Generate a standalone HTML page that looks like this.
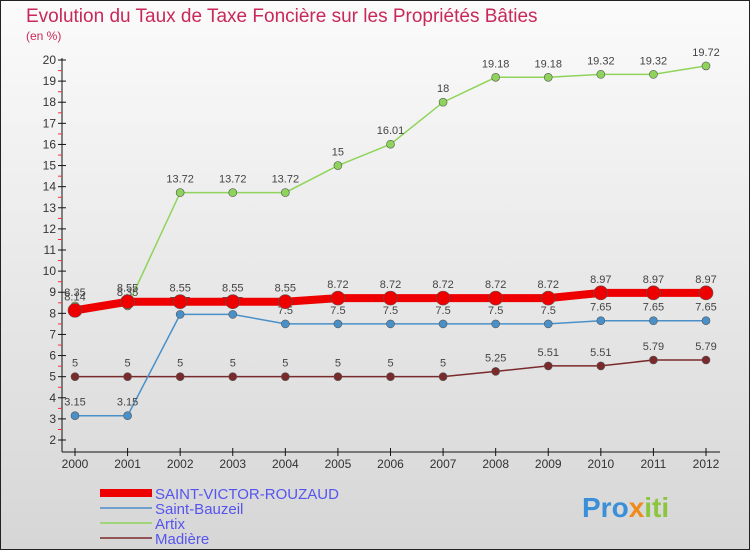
<!DOCTYPE html>
<html><head><meta charset="utf-8"><style>
body{margin:0;width:750px;height:550px;overflow:hidden;font-family:"Liberation Sans",sans-serif}
svg text{font-family:"Liberation Sans",sans-serif}
</style></head><body>
<svg id="c" width="750" height="550" xmlns="http://www.w3.org/2000/svg">
<defs><linearGradient id="bg" x1="0" y1="0" x2="0" y2="1"><stop offset="0" stop-color="#fbfbfb"/><stop offset="1" stop-color="#d6d6d6"/></linearGradient></defs>
<rect x="0.5" y="0.5" width="749" height="549" fill="url(#bg)" stroke="#222"/>
<text x="26" y="22" font-size="19" fill="#c8285a">Evolution du Taux de Taxe Foncière sur les Propriétés Bâties</text>
<text x="26" y="40" font-size="12" fill="#c8285a">(en %)</text>
<g id="axes"></g><g id="series"></g><g id="legend"></g>
<text x="582" y="517" font-size="28" font-weight="bold" fill="#3a8fd8">Pro<tspan fill="#f08a1c">x</tspan><tspan fill="#8cc63f">iti</tspan></text>
</svg>
<script>
const years=[2000,2001,2002,2003,2004,2005,2006,2007,2008,2009,2010,2011,2012];
const yTicks=[2,3,4,5,6,7,8,9,10,11,12,13,14,15,16,17,18,19,20];
const stVictor=[8.14,8.55,8.55,8.55,8.55,8.72,8.72,8.72,8.72,8.72,8.97,8.97,8.97];
const stBauzeil=[3.15,3.15,7.95,7.95,7.5,7.5,7.5,7.5,7.5,7.5,7.65,7.65,7.65];
const artix=[8.35,8.35,13.72,13.72,13.72,15,16.01,18,19.18,19.18,19.32,19.32,19.72];
const madiere=[5,5,5,5,5,5,5,5,5.25,5.51,5.51,5.79,5.79];
const names=["SAINT-VICTOR-ROUZAUD","Saint-Bauzeil","Artix","Madière"];
const NS="http://www.w3.org/2000/svg";
const X=i=>75+i*(706-75)/(years.length-1);
const Y=v=>440-(v-2)*(380/18);
function mk(t,a,p){const e=document.createElementNS(NS,t);for(const k in a)e.setAttribute(k,a[k]);p.appendChild(e);return e;}
const ax=document.getElementById('axes');
let l=mk('line',{x1:62,y1:58,x2:62,y2:452,stroke:'#111'},ax);


l=mk('line',{x1:62,y1:452,x2:720,y2:452,stroke:'#111'},ax);


yTicks.forEach(v=>{const y=Y(v);mk('line',{x1:58,y1:y,x2:66,y2:y,stroke:'#111'},ax);
 if(v<20)mk('line',{x1:58,y1:y-10.5,x2:62,y2:y-10.5,stroke:'#e33'},ax);
 const t=mk('text',{x:56,y:y+4,'font-size':12,'text-anchor':'end',fill:'#333'},ax);t.textContent=v;
 
 });
years.forEach((yr,i)=>{mk('line',{x1:X(i),y1:448,x2:X(i),y2:456,stroke:'#111'},ax);
 const t=mk('text',{x:X(i),y:468,'font-size':12,'text-anchor':'middle',fill:'#333'},ax);t.textContent=yr;
 
 });
const S=[{d:madiere,c:'#7a2a2a',w:1.5,r:4,n:'series-madiere'},{d:stBauzeil,c:'#4a90c8',w:1.5,r:4,n:'series-saint-bauzeil'},{d:artix,c:'#8fd45a',w:1.5,r:4,n:'series-artix'},{d:stVictor,c:'#ee0000',w:8,r:7,n:'series-saint-victor-rouzaud'}];
const sg=document.getElementById('series');
S.forEach(s=>{const g=mk('g',{},sg);
 
 
 mk('polyline',{points:s.d.map((v,i)=>X(i)+','+Y(v)).join(' '),fill:'none',stroke:s.c,'stroke-width':s.w},g);
 s.d.forEach((v,i)=>{const c=mk('circle',{cx:X(i),cy:Y(v),r:s.r,fill:s.c,stroke:'#555','stroke-width':0.6},g);
  
  
  const t=mk('text',{x:X(i),y:Y(v)-10,'font-size':11,'text-anchor':'middle',fill:'#444'},g);t.textContent=v;});});
const lg=document.getElementById('legend');
const lc=['#ee0000','#4a90c8','#8fd45a','#7a2a2a'],lw=[8,1.5,1.5,1.5];
names.forEach((n,i)=>{const y=493+i*15;const g=mk('g',{},lg);
 
 
 mk('line',{x1:100,y1:y,x2:152,y2:y,stroke:lc[i],'stroke-width':lw[i]},g);
 const t=mk('text',{x:155,y:y+6,'font-size':15,fill:'#5555ee'},g);t.textContent=n;});
</script>
</body></html>
